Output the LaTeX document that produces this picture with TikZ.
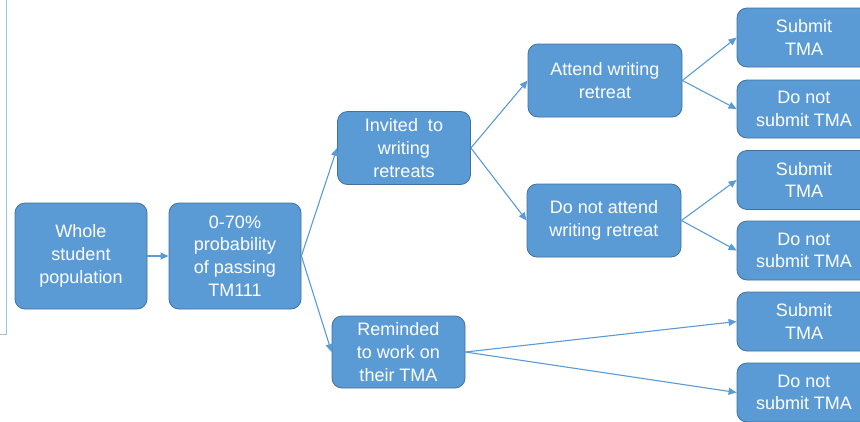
\documentclass[tikz,border=0pt]{standalone}
\usepackage{fontspec}
\setmainfont{Liberation Sans}
\usepackage{xcolor}
\usepackage{tikz}
\usetikzlibrary{arrows.meta}

\definecolor{boxblue}{HTML}{5B9BD5}
\definecolor{boxedge}{HTML}{41719C}
\definecolor{frameblue}{HTML}{9DC3E6}

\begin{document}
\begin{tikzpicture}[
      x=1pt, y=-1pt,
      every node/.style={font=\fontsize{18}{22.7}\selectfont},
      stage/.style={
        draw=boxedge, fill=boxblue, text=white, rounded corners=10pt,
        align=center, inner sep=0pt, line width=0.8pt
      },
      arrow/.style={draw=boxblue, line width=1.1pt,
        -{Triangle[length=8pt,width=7pt]}}
    ]
    \useasboundingbox (0,0) rectangle (860,421);
    \draw[frameblue, line width=1pt] (6,0) -- (6,334) -- (0,334);

    \node[stage, minimum width=132pt, minimum height=106pt] (W) at (81,256) {Whole\\student\\population};
    \node[stage, minimum width=132pt, minimum height=106pt] (P) at (235,256) {0-70\%\\probability\\of passing\\TM111};
    \node[stage, minimum width=133pt, minimum height=73pt] (I) at (404,148) {Invited\ \ to\\writing\\retreats};
    \node[stage, minimum width=133pt, minimum height=72pt] (R) at (398.5,352) {Reminded\\to work on\\their TMA};
    \node[stage, minimum width=154pt, minimum height=73pt] (A) at (605,80.5) {Attend writing\\retreat};
    \node[stage, minimum width=154pt, minimum height=73pt] (N) at (604,220.5) {Do not attend\\writing retreat};
    \node[stage, minimum width=134pt, minimum height=59pt] (AS) at (804,37.5) {Submit\\TMA};
    \node[stage, minimum width=134pt, minimum height=58pt] (AD) at (804,109) {Do not\\submit TMA};
    \node[stage, minimum width=134pt, minimum height=59pt] (NS) at (804,180) {Submit\\TMA};
    \node[stage, minimum width=134pt, minimum height=59pt] (ND) at (804,250.5) {Do not\\submit TMA};
    \node[stage, minimum width=134pt, minimum height=59pt] (RS) at (804,321.5) {Submit\\TMA};
    \node[stage, minimum width=134pt, minimum height=59pt] (RD) at (804,392.5) {Do not\\submit TMA};

    \draw[arrow] (W) -- (P);
    \draw[arrow] (P.east) -- (I.west);
    \draw[arrow] (P.east) -- (R.west);
    \draw[arrow] (I.east) -- (A.west);
    \draw[arrow] (I.east) -- (N.west);
    \draw[arrow] (A.east) -- (AS.west);
    \draw[arrow] (A.east) -- (AD.west);
    \draw[arrow] (N.east) -- (NS.west);
    \draw[arrow] (N.east) -- (ND.west);
    \draw[arrow] (R.east) -- (RS.west);
    \draw[arrow] (R.east) -- (RD.west);
  \end{tikzpicture}
\end{document}
